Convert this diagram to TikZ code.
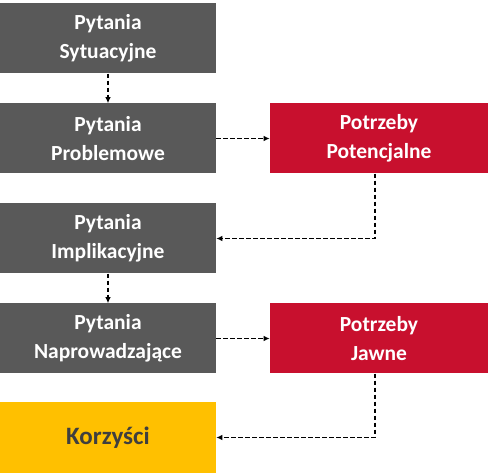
\documentclass[tikz,border=0pt]{standalone}
\usepackage{fontspec}
\setmainfont{Carlito}
\usepackage{xcolor}
\usetikzlibrary{arrows.meta,calc}

\definecolor{boxgray}{HTML}{595959}
\definecolor{boxred}{HTML}{C8102E}
\definecolor{boxyellow}{HTML}{FFC000}
\definecolor{textdark}{HTML}{3F3F3F}

\begin{document}
\begin{tikzpicture}[
x=1pt,
y=-1pt,
every node/.style={font=\fontsize{21.5}{29.5}\selectfont\bfseries},
pytanie/.style={rectangle,fill=boxgray,text=white,align=center,minimum width=216pt,minimum height=70pt,inner sep=0pt},
potrzeba/.style={rectangle,fill=boxred,text=white,align=center,minimum width=218pt,minimum height=70pt,inner sep=0pt},
wynik/.style={rectangle,fill=boxyellow,text=textdark,align=center,minimum width=216pt,minimum height=71pt,inner sep=0pt,font=\fontsize{25}{30}\selectfont\bfseries},
arr/.style={-{Latex[length=2.2mm,width=2mm]},line width=1.9pt,dash pattern=on 4.5pt off 2.5pt}
]
\useasboundingbox (0,0) rectangle (488,473);

\node[pytanie] (sit) at (108,38.5) {Pytania\\Sytuacyjne};
\node[pytanie] (prob) at (108,138.5) {Pytania\\Problemowe};
\node[pytanie] (impl) at (108,238.5) {Pytania\\Implikacyjne};
\node[pytanie] (napr) at (108,338.5) {Pytania\\Naprowadzające};
\node[wynik] (korz) at (108,437.5) {Korzyści};
\node[potrzeba] (potenc) at (379,138.5) {Potrzeby\\Potencjalne};
\node[potrzeba] (jawne) at (379,338.5) {Potrzeby\\Jawne};

\draw[arr] (sit) -- (prob);
\draw[arr] (prob) -- (potenc);
\draw[arr] ($(potenc.south)+(-4,0)$) |- (impl.east);
\draw[arr] (impl) -- (napr);
\draw[arr] (napr) -- (jawne);
\draw[arr] ($(jawne.south)+(-4,0)$) |- (korz.east);
\end{tikzpicture}
\end{document}
